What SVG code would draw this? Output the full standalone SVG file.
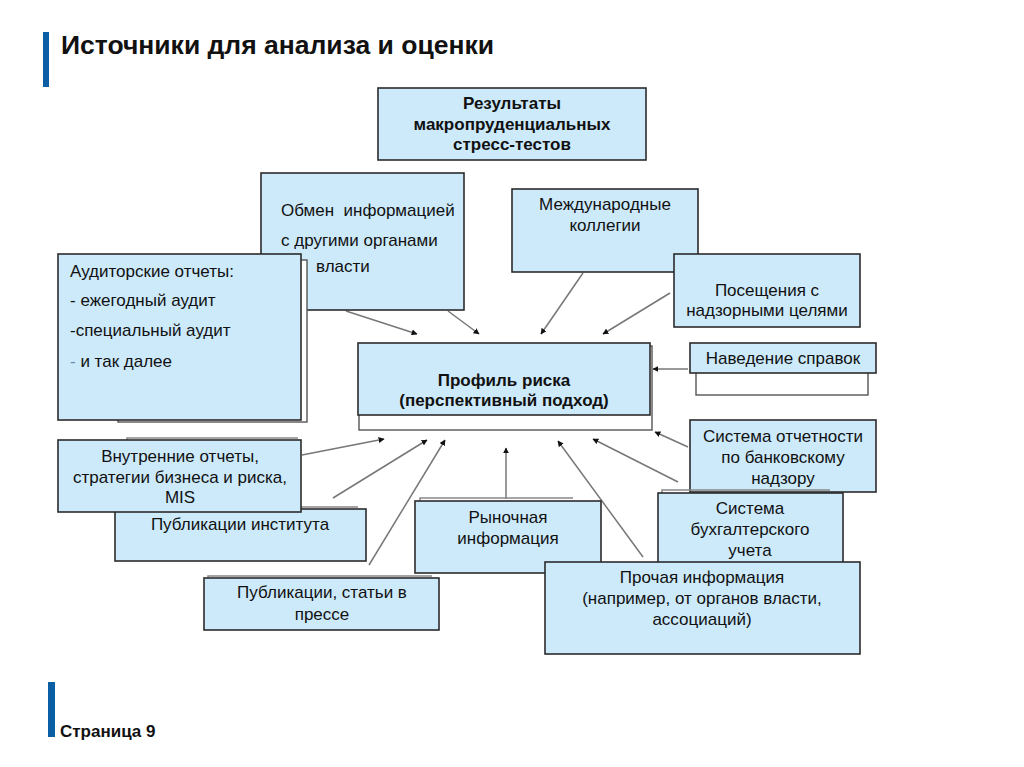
<svg xmlns="http://www.w3.org/2000/svg" width="1024" height="767" viewBox="0 0 1024 767">
<defs>
<style>
.box{fill:#cdeafb;stroke:#2b2b2b;stroke-width:1.6}
.back{fill:#ffffff;stroke:#555;stroke-width:1.4}
.shadow{fill:none;stroke:#888;stroke-width:1.5}
.t{font-family:"Liberation Sans",Arial,sans-serif;font-size:17px;fill:#111}
.c{text-anchor:middle}
.b{font-weight:bold}
.conn line{stroke:#777;stroke-width:1.5;marker-end:url(#ah)}
</style>
<marker id="ah" viewBox="0 0 10 10" refX="9" refY="5" markerWidth="6" markerHeight="6" orient="auto" markerUnits="userSpaceOnUse">
<path d="M0,0 L10,5 L0,10 z" fill="#111"/>
</marker>
</defs>
<rect width="1024" height="767" fill="#ffffff"/>

<g id="header">
<rect x="43" y="32" width="6" height="55" fill="#0a5ea4"/>
<text x="61" y="54" font-family="Liberation Sans,Arial,sans-serif" font-size="26.5" font-weight="bold" fill="#111">Источники для анализа и оценки</text>
</g>

<g id="footer">
<rect x="48" y="682" width="7" height="55" fill="#0a5ea4"/>
<text x="60" y="737" font-family="Liberation Sans,Arial,sans-serif" font-size="17" font-weight="bold" fill="#111">Страница 9</text>
</g>

<g id="connectors" class="conn">
<line x1="346" y1="311" x2="417" y2="334"/>
<line x1="448" y1="311" x2="479" y2="334"/>
<line x1="583" y1="273" x2="541" y2="334"/>
<line x1="670" y1="293" x2="603" y2="334"/>
<line x1="688" y1="369" x2="653" y2="369"/>
<line x1="688" y1="447" x2="655" y2="432"/>
<line x1="302" y1="455" x2="384" y2="439"/>
<line x1="333" y1="498" x2="427" y2="440"/>
<line x1="369" y1="565" x2="445" y2="440"/>
<line x1="506" y1="499" x2="506" y2="448"/>
<line x1="643" y1="557" x2="558" y2="441"/>
<line x1="678" y1="482" x2="593" y2="439"/>
</g>

<g id="n-stress">
<rect class="box" x="378" y="88" width="268" height="72"/>
<text class="t c b" x="512" y="109">Результаты</text>
<text class="t c b" x="512" y="130">макропруденциальных</text>
<text class="t c b" x="512" y="150">стресс-тестов</text>
</g>

<g id="n-exchange">
<rect class="box" x="261" y="173" width="203" height="137"/>
<text class="t" x="281" y="216" font-size="14.5" xml:space="preserve">Обмен  информацией</text>
<text class="t" x="281" y="246" font-size="14.5">с другими органами</text>
<text class="t" x="316" y="272" font-size="14.5">власти</text>
</g>

<g id="n-colleges">
<rect class="box" x="512" y="189" width="186" height="83"/>
<text class="t c" x="605" y="210">Международные</text>
<text class="t c" x="605" y="231">коллегии</text>
</g>

<g id="n-visits">
<rect class="box" x="674" y="254" width="186" height="73"/>
<text class="t c" x="767" y="296">Посещения с</text>
<text class="t c" x="767" y="316">надзорными целями</text>
</g>

<g id="n-audit">
<rect class="back" x="118" y="260" width="189" height="162"/>
<rect class="box" x="58" y="254" width="243" height="166"/>
<text class="t" x="70" y="277">Аудиторские отчеты:</text>
<text class="t" x="70" y="306">- ежегодный аудит</text>
<text class="t" x="70" y="336">-специальный аудит</text>
<text class="t" x="70" y="367"><tspan fill="#6a8fb0">-</tspan> и так далее</text>
</g>

<g id="n-profile">
<rect class="back" x="359" y="346" width="293" height="84"/>
<rect class="box" x="358" y="343" width="292" height="72"/>
<text class="t c b" x="504" y="386" font-size="18.4">Профиль риска</text>
<text class="t c b" x="504" y="406" font-size="18.4">(перспективный подход)</text>
</g>

<g id="n-inquiry">
<rect class="back" x="696" y="350" width="172" height="45"/>
<rect class="box" x="690" y="343" width="186" height="30"/>
<text class="t c" x="783" y="364">Наведение справок</text>
</g>

<g id="n-reporting">
<rect class="box" x="690" y="420" width="186" height="72"/>
<text class="t c" x="783" y="442">Система отчетности</text>
<text class="t c" x="783" y="463">по банковскому</text>
<text class="t c" x="783" y="484">надзору</text>
</g>

<g id="n-accounting">
<path class="shadow" d="M662,493 V490 H830"/>
<rect class="box" x="658" y="493" width="185" height="72"/>
<text class="t c" x="750" y="514">Система</text>
<text class="t c" x="750" y="535">бухгалтерского</text>
<text class="t c" x="750" y="556">учета</text>
</g>

<g id="n-market">
<path class="shadow" d="M420,501 V498 H573"/>
<rect class="box" x="415" y="501" width="186" height="72"/>
<text class="t c" x="508" y="523">Рыночная</text>
<text class="t c" x="508" y="544">информация</text>
</g>

<g id="n-other">
<rect class="box" x="545" y="562" width="315" height="92"/>
<text class="t c" x="702" y="583">Прочая информация</text>
<text class="t c" x="702" y="604">(например, от органов власти,</text>
<text class="t c" x="702" y="625">ассоциаций)</text>
</g>

<g id="n-pubinst">
<path class="shadow" d="M120,509 V507 H358"/>
<rect class="box" x="115" y="509" width="251" height="52"/>
<text class="t c" x="240" y="530">Публикации института</text>
</g>

<g id="n-internal">
<path class="shadow" d="M127,440 V438 H298"/>
<rect class="box" x="58" y="440" width="243" height="72"/>
<text class="t c" x="180" y="462">Внутренние отчеты,</text>
<text class="t c" x="180" y="483">стратегии бизнеса и риска,</text>
<text class="t c" x="180" y="503">MIS</text>
</g>

<g id="n-press">
<path class="shadow" d="M208,578 V576 H432"/>
<rect class="box" x="204" y="578" width="235" height="52"/>
<text class="t c" x="322" y="598">Публикации, статьи в</text>
<text class="t c" x="322" y="620">прессе</text>
</g>
</svg>
